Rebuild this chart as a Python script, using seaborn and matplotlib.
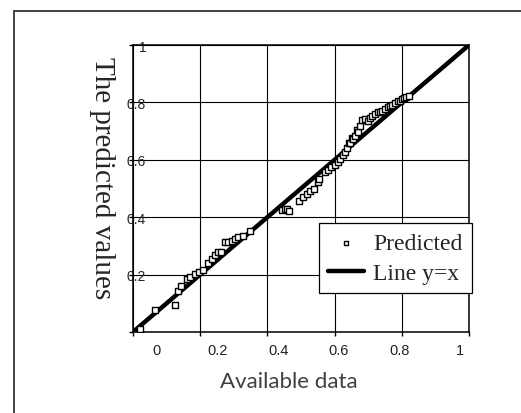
import numpy as np
import pandas as pd
import matplotlib
matplotlib.use("Agg")
import matplotlib.pyplot as plt
import matplotlib.patches as patches
import seaborn as sb

# data
availableData = [0.02, 0.065, 0.125, 0.134, 0.143, 0.161, 0.170, 0.185, 0.196,
                 0.208, 0.223, 0.235, 0.244, 0.253, 0.262, 0.274, 0.283, 0.295,
                 0.304, 0.313, 0.327, 0.348, 0.443, 0.452, 0.458, 0.464, 0.494,
                 0.506, 0.518, 0.527, 0.539, 0.551, 0.554, 0.571, 0.580, 0.589,
                 0.601, 0.610, 0.616, 0.625, 0.631, 0.637, 0.643, 0.646, 0.652,
                 0.655, 0.661, 0.667, 0.670, 0.676, 0.682, 0.690, 0.699, 0.705,
                 0.712, 0.720, 0.729, 0.735, 0.741, 0.750, 0.759, 0.765, 0.771,
                 0.780, 0.789, 0.795, 0.801, 0.808, 0.813, 0.821]
predictedValues = [0.01, 0.077, 0.094, 0.143, 0.160, 0.185, 0.192, 0.202, 0.209,
                   0.216, 0.240, 0.254, 0.268, 0.279, 0.279, 0.314, 0.314, 0.317,
                   0.324, 0.331, 0.335, 0.352, 0.425, 0.427, 0.429, 0.422, 0.456,
                   0.470, 0.481, 0.491, 0.498, 0.523, 0.533, 0.557, 0.564, 0.575,
                   0.582, 0.592, 0.603, 0.617, 0.627, 0.641, 0.660, 0.659, 0.676,
                   0.672, 0.683, 0.704, 0.697, 0.718, 0.739, 0.742, 0.735, 0.746,
                   0.752, 0.760, 0.767, 0.765, 0.770, 0.777, 0.784, 0.786, 0.791,
                   0.798, 0.805, 0.806, 0.812, 0.815, 0.819, 0.822]
lineX = [0, 1]
lineY = [0, 1]
tickValues = [0, 0.2, 0.4, 0.6, 0.8, 1]
tickLabels = ["0", "0.2", "0.4", "0.6", "0.8", "1"]

points = pd.DataFrame({"x": availableData, "y": predictedValues})
line = pd.DataFrame({"x": lineX, "y": lineY})

sb.set_style("white")
plt.rcParams["font.family"] = ["Liberation Sans", "DejaVu Sans"]

fig = plt.figure(figsize=(5.21, 4.14), dpi=100)
ax = fig.add_axes([133 / 521, 1 - 333 / 414, 336 / 521, 287 / 414])

# outer frame of the original picture (only left and top visible)
fig.patches.append(patches.Rectangle((14 / 521, -0.2), 1.2, 1 - 12 / 414 + 0.2,
                                     transform=fig.transFigure, fill=False,
                                     edgecolor="#333333", linewidth=1.3))

sb.lineplot(data=line, x="x", y="y", ax=ax, color="black", linewidth=3.2,
            label="Line y=x", zorder=3)
sb.scatterplot(data=points, x="x", y="y", ax=ax, marker="s", s=16,
               facecolor="white", edgecolor="black", linewidth=1.0,
               label="Predicted", zorder=4)

ax.set_xlim(0, 1)
ax.set_ylim(0, 1)
ax.set_xticks(tickValues)
ax.set_yticks(tickValues)
ax.grid(True, color="black", linewidth=0.8)
ax.set_axisbelow(True)
for s in ax.spines.values():
    s.set_color("black")
    s.set_linewidth(1.1)

ax.set_xticklabels([])
ax.set_yticklabels(["", "0.2", "0.4", "0.6", "0.8", "1"])
ax.tick_params(axis="x", direction="out", length=3, width=1, color="black",
               bottom=True)
ax.tick_params(axis="y", direction="out", length=3, width=1, color="black",
               left=True, labelsize=10, pad=-12.5)
ax.set_xlabel("")
ax.set_ylabel("")

# x tick labels sit shifted against the grid in the original
sec = ax.secondary_xaxis("bottom", functions=(lambda v: (v - 0.071) / 0.902,
                                              lambda v: v * 0.902 + 0.071))
sec.set_xticks(tickValues)
sec.set_xticklabels(tickLabels)
sec.tick_params(length=0, labelsize=10.5, pad=8, labelcolor="#222222")
sec.spines["bottom"].set_visible(False)

fig.text(289 / 521, 1 - 382 / 414, "Available data", ha="center", va="center",
         fontsize=16, color="#404040", family=["Lato", "DejaVu Sans"])
fig.text(102 / 521, 1 - 178 / 414, "The predicted values", ha="center",
         va="center", rotation=270, fontsize=21,
         family=["Liberation Serif", "DejaVu Serif"])

handles, labels = ax.get_legend_handles_labels()
order = [labels.index("Predicted"), labels.index("Line y=x")]
leg = ax.legend([handles[i] for i in order], [labels[i] for i in order],
                loc="upper left", bbox_to_anchor=((319 - 133) / 336, (333 - 224) / 287),
                prop={"family": "Liberation Serif", "size": 17},
                frameon=True, fancybox=False, edgecolor="black", framealpha=1,
                borderpad=0.4, labelspacing=0.35, handlelength=1.5,
                handletextpad=0.4, borderaxespad=0, markerscale=0.8)
leg.get_frame().set_linewidth(0.9)

fig.savefig("out.png", dpi=100)
